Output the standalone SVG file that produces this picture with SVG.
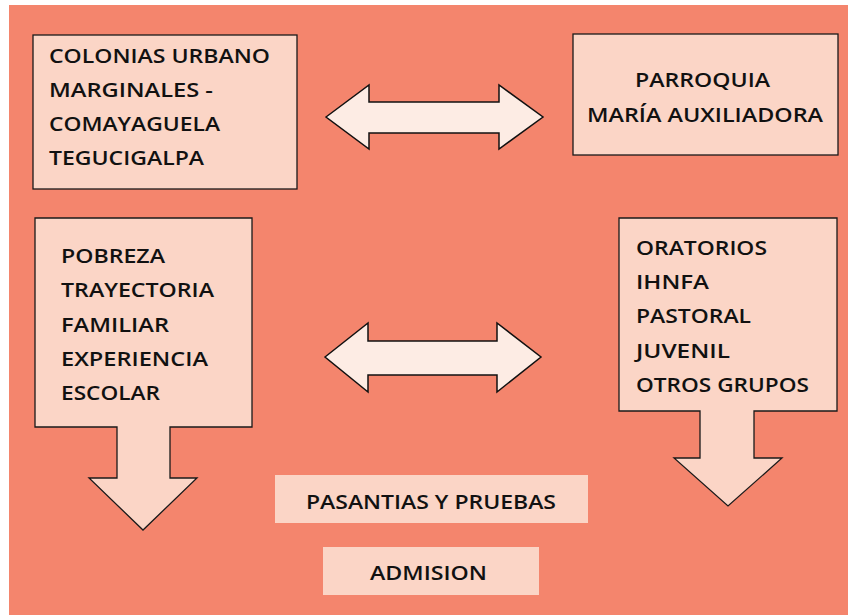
<svg xmlns="http://www.w3.org/2000/svg" width="848" height="615" viewBox="0 0 848 615">
<style>
.box{fill:#FBD5C6;stroke:#1a1a1a;stroke-width:1.3}
.plain{fill:#FBD5C6;stroke:none}
.arr{fill:#FDECE4;stroke:#111;stroke-width:1.5;stroke-linejoin:miter}
text{font-family:"Open Sans","Liberation Sans",sans-serif;font-size:20px;fill:#111;font-weight:600}
</style>
<rect x="0" y="0" width="848" height="615" fill="#ffffff"/>
<rect x="9" y="5" width="839" height="610" fill="#F4856D"/>
<g id="colonias">
<rect class="box" x="33" y="35" width="264" height="154"/>
<text x="49" y="63" textLength="221" lengthAdjust="spacingAndGlyphs">COLONIAS URBANO</text>
<text x="49" y="97" textLength="164" lengthAdjust="spacingAndGlyphs">MARGINALES -</text>
<text x="49" y="131" textLength="171" lengthAdjust="spacingAndGlyphs">COMAYAGUELA</text>
<text x="49" y="165" textLength="155" lengthAdjust="spacingAndGlyphs">TEGUCIGALPA</text>
</g>
<g id="parroquia">
<rect class="box" x="573" y="34" width="265" height="121"/>
<text x="635" y="87" textLength="135" lengthAdjust="spacingAndGlyphs">PARROQUIA</text>
<text x="587" y="122" textLength="236" lengthAdjust="spacingAndGlyphs">MARÍA AUXILIADORA</text>
</g>
<g id="pobreza">
<path class="box" d="M35,218 H252 V427 H170 V478 H197 L143,530 L89,478 H117 V427 H35 Z"/>
<text x="61" y="263" textLength="104" lengthAdjust="spacingAndGlyphs">POBREZA</text>
<text x="61" y="297" textLength="153" lengthAdjust="spacingAndGlyphs">TRAYECTORIA</text>
<text x="61" y="332" textLength="108" lengthAdjust="spacingAndGlyphs">FAMILIAR</text>
<text x="61" y="366" textLength="147" lengthAdjust="spacingAndGlyphs">EXPERIENCIA</text>
<text x="61" y="400" textLength="99" lengthAdjust="spacingAndGlyphs">ESCOLAR</text>
</g>
<g id="oratorios">
<path class="box" d="M619,218 H837 V411 H754 V458 H782 L728,506 L674,458 H700 V411 H619 Z"/>
<text x="636" y="255" textLength="131" lengthAdjust="spacingAndGlyphs">ORATORIOS</text>
<text x="636" y="289" textLength="73" lengthAdjust="spacingAndGlyphs">IHNFA</text>
<text x="636" y="323" textLength="115" lengthAdjust="spacingAndGlyphs">PASTORAL</text>
<text x="636" y="358" textLength="94" lengthAdjust="spacingAndGlyphs">JUVENIL</text>
<text x="636" y="392" textLength="173" lengthAdjust="spacingAndGlyphs">OTROS GRUPOS</text>
</g>
<g id="pasantias">
<rect class="plain" x="275" y="475" width="313" height="48"/>
<text x="306" y="509" textLength="250" lengthAdjust="spacingAndGlyphs">PASANTIAS Y PRUEBAS</text>
</g>
<g id="admision">
<rect class="plain" x="323" y="547" width="216" height="48"/>
<text x="370" y="580" textLength="117" lengthAdjust="spacingAndGlyphs">ADMISION</text>
</g>
<g id="connectors">
<path class="arr" d="M326,117 L369,85 V102 H499 V85 L543,117 L499,149 V133 H369 V149 Z"/>
<path class="arr" d="M325,357 L368,323 V341 H497 V323 L541,357 L497,392 V375 H368 V392 Z"/>
</g>
</svg>
